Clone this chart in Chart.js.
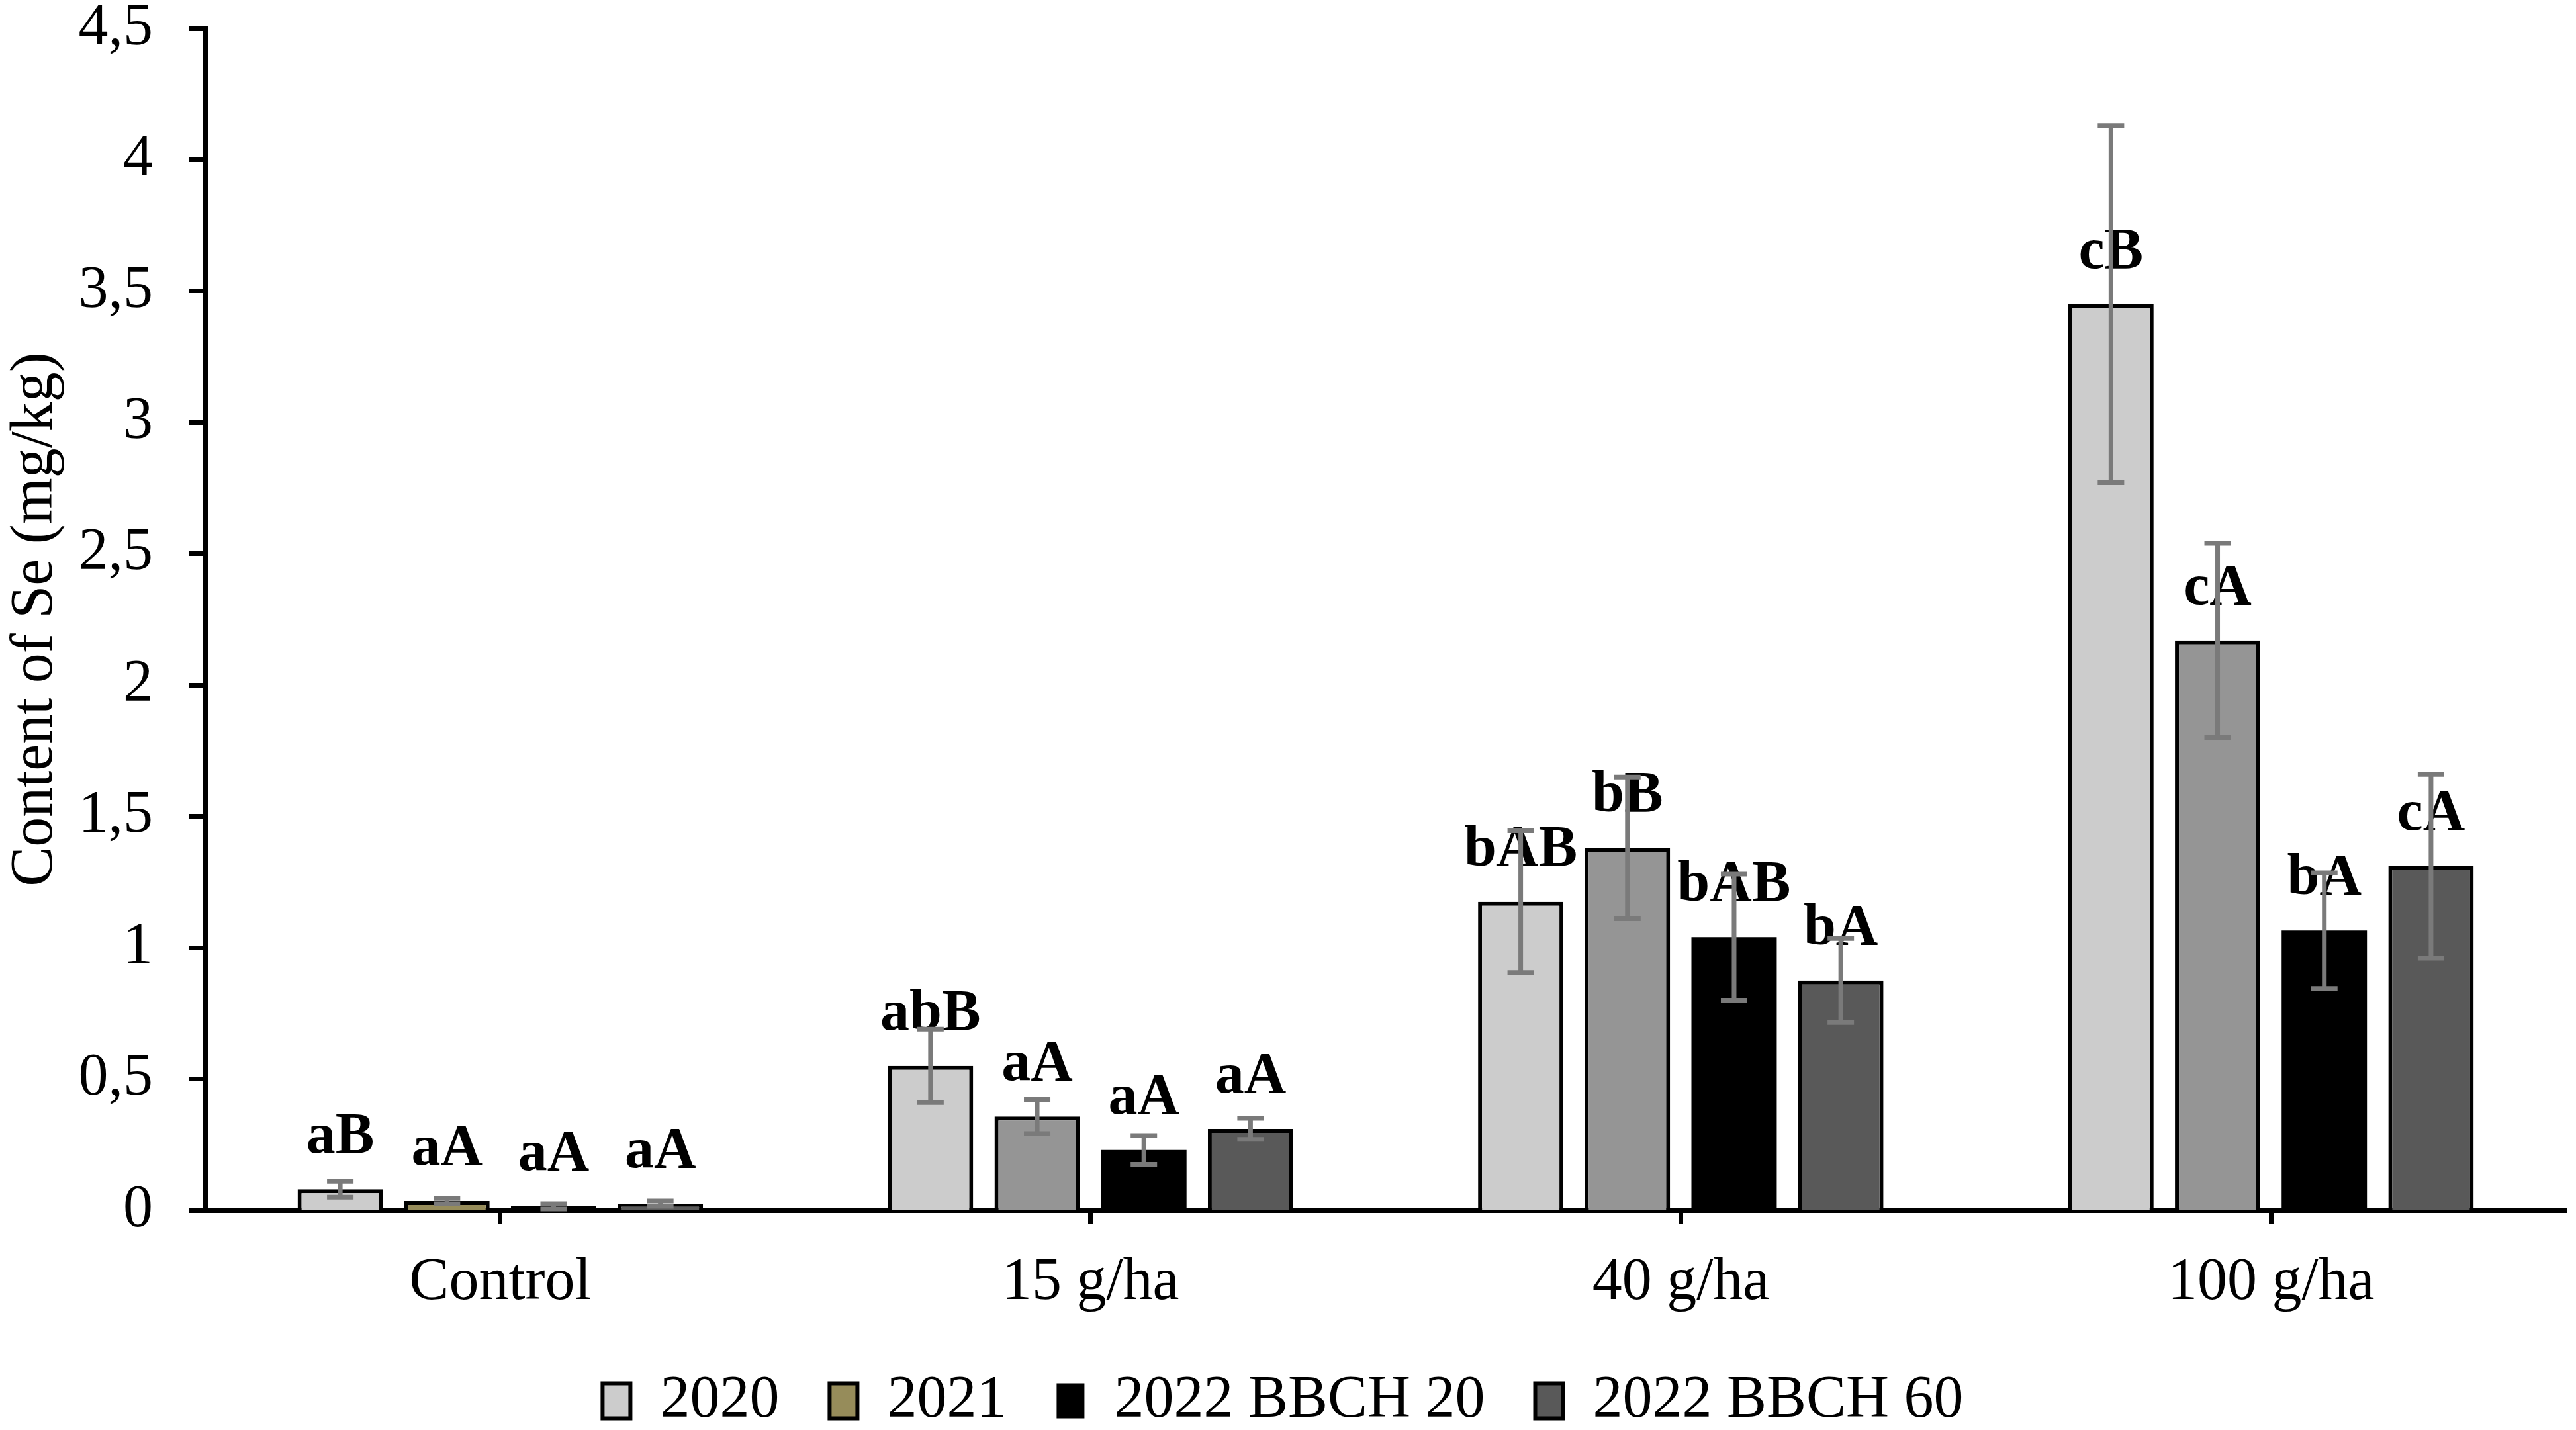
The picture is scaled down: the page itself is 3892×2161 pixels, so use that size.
<!DOCTYPE html>
<html>
<head>
<meta charset="utf-8">
<script src="https://cdn.jsdelivr.net/npm/chart.js@4/dist/chart.umd.min.js"></script>
<style>
  html, body { margin: 0; padding: 0; background: #fff; }
  #wrap { width: 3892px; height: 2161px; position: relative; }
</style>
</head>
<body>
<div id="wrap"><canvas id="seChart"></canvas></div>
<script>
// Se content in grain by dose, 4 seasons
const doses = ['Control', '15 g/ha', '40 g/ha', '100 g/ha'];
const seriesNames = ['2020', '2021', '2022 BBCH 20', '2022 BBCH 60'];

const se2020 = [0.08, 0.55, 1.175, 3.45];
const se2021 = [0.035, 0.357, 1.38, 2.17];
const seBbch20 = [0.015, 0.23, 1.04, 1.065];
const seBbch60 = [0.025, 0.31, 0.875, 1.31];

// +/- error
const err2020 = [0.03, 0.14, 0.27, 0.68];
const err2021 = [0.01, 0.065, 0.27, 0.37];
const errBbch20 = [0.01, 0.055, 0.24, 0.22];
const errBbch60 = [0.01, 0.04, 0.16, 0.35];

// significance letters
const lbl2020 = ['aB', 'abB', 'bAB', 'cB'];
const lbl2021 = ['aA', 'aA', 'bB', 'cA'];
const lblBbch20 = ['aA', 'aA', 'bAB', 'bA'];
const lblBbch60 = ['aA', 'aA', 'bA', 'cA'];

const yTickLabels = ['0', '0,5', '1', '1,5', '2', '2,5', '3', '3,5', '4', '4,5'];

const FONT = '"Liberation Serif", "Times New Roman", serif';

// letters above bars, then error bars on top of them
const barExtras = {
  id: 'barExtras',
  afterDatasetsDraw(chart) {
    const ctx = chart.ctx;
    const yScale = chart.scales.y;
    ctx.save();
    ctx.font = 'bold 88px ' + FONT;
    ctx.fillStyle = '#000';
    ctx.textAlign = 'center';
    ctx.textBaseline = 'alphabetic';
    chart.data.datasets.forEach((ds, i) => {
      chart.getDatasetMeta(i).data.forEach((bar, j) => {
        ctx.fillText(ds.letters[j], bar.x, bar.y - 55);
      });
    });
    ctx.strokeStyle = '#7a7a7a';
    ctx.lineWidth = 7;
    chart.data.datasets.forEach((ds, i) => {
      chart.getDatasetMeta(i).data.forEach((bar, j) => {
        const v = ds.data[j], e = ds.errors[j];
        const top = yScale.getPixelForValue(v + e);
        const bot = yScale.getPixelForValue(Math.max(v - e, 0));
        ctx.beginPath();
        ctx.moveTo(bar.x, top); ctx.lineTo(bar.x, bot);
        ctx.moveTo(bar.x - 20, top); ctx.lineTo(bar.x + 20, top);
        ctx.moveTo(bar.x - 20, bot); ctx.lineTo(bar.x + 20, bot);
        ctx.stroke();
      });
    });
    ctx.restore();
  }
};

new Chart(document.getElementById('seChart'), {
  type: 'bar',
  data: {
    labels: doses,
    datasets: [
      { label: seriesNames[0], data: se2020, errors: err2020, letters: lbl2020,
        backgroundColor: '#cccccc', borderColor: '#000', borderWidth: 6 },
      { label: seriesNames[1], data: se2021, errors: err2021, letters: lbl2021,
        backgroundColor: ['#968c5a', '#959595', '#959595', '#959595'], borderColor: '#000', borderWidth: 6 },
      { label: seriesNames[2], data: seBbch20, errors: errBbch20, letters: lblBbch20,
        backgroundColor: '#000000', borderColor: '#000', borderWidth: 0 },
      { label: seriesNames[3], data: seBbch60, errors: errBbch60, letters: lblBbch60,
        backgroundColor: '#595959', borderColor: '#000', borderWidth: 6 }
    ]
  },
  options: {
    responsive: true,
    maintainAspectRatio: false,
    devicePixelRatio: 1,
    animation: false,
    datasets: { bar: { categoryPercentage: 0.723, barPercentage: 0.8 } },
    layout: { padding: { left: 0, right: 15, top: 43, bottom: -11 } },
    plugins: {
      legend: {
        position: 'bottom',
        labels: {
          font: { family: FONT, size: 90 },
          color: '#000',
          boxWidth: 42,
          boxHeight: 53,
          padding: 76
        }
      },
      tooltip: { enabled: false }
    },
    scales: {
      x: {
        grid: { drawOnChartArea: false, offset: false, tickLength: 20, tickWidth: 7, tickColor: '#000' },
        border: { color: '#000', width: 7 },
        ticks: { font: { family: FONT, size: 90 }, color: '#000', padding: 36 },
        afterFit(s) { s.height = 167; }
      },
      y: {
        min: 0,
        max: 4.5,
        ticks: {
          stepSize: 0.5,
          callback: (v, i) => yTickLabels[i],
          font: { family: FONT, size: 90 },
          color: '#000',
          padding: 55
        },
        grid: { drawOnChartArea: false, tickLength: 24, tickWidth: 7, tickColor: '#000' },
        border: { color: '#000', width: 7 },
        title: {
          display: true,
          text: 'Content of Se (mg/kg)',
          font: { family: FONT, size: 90 },
          color: '#000',
          padding: 0
        },
        afterFit(s) { s.width = 310; s.paddingTop = 0; s.paddingBottom = 0; }
      }
    }
  },
  plugins: [barExtras]
});
</script>
</body>
</html>
